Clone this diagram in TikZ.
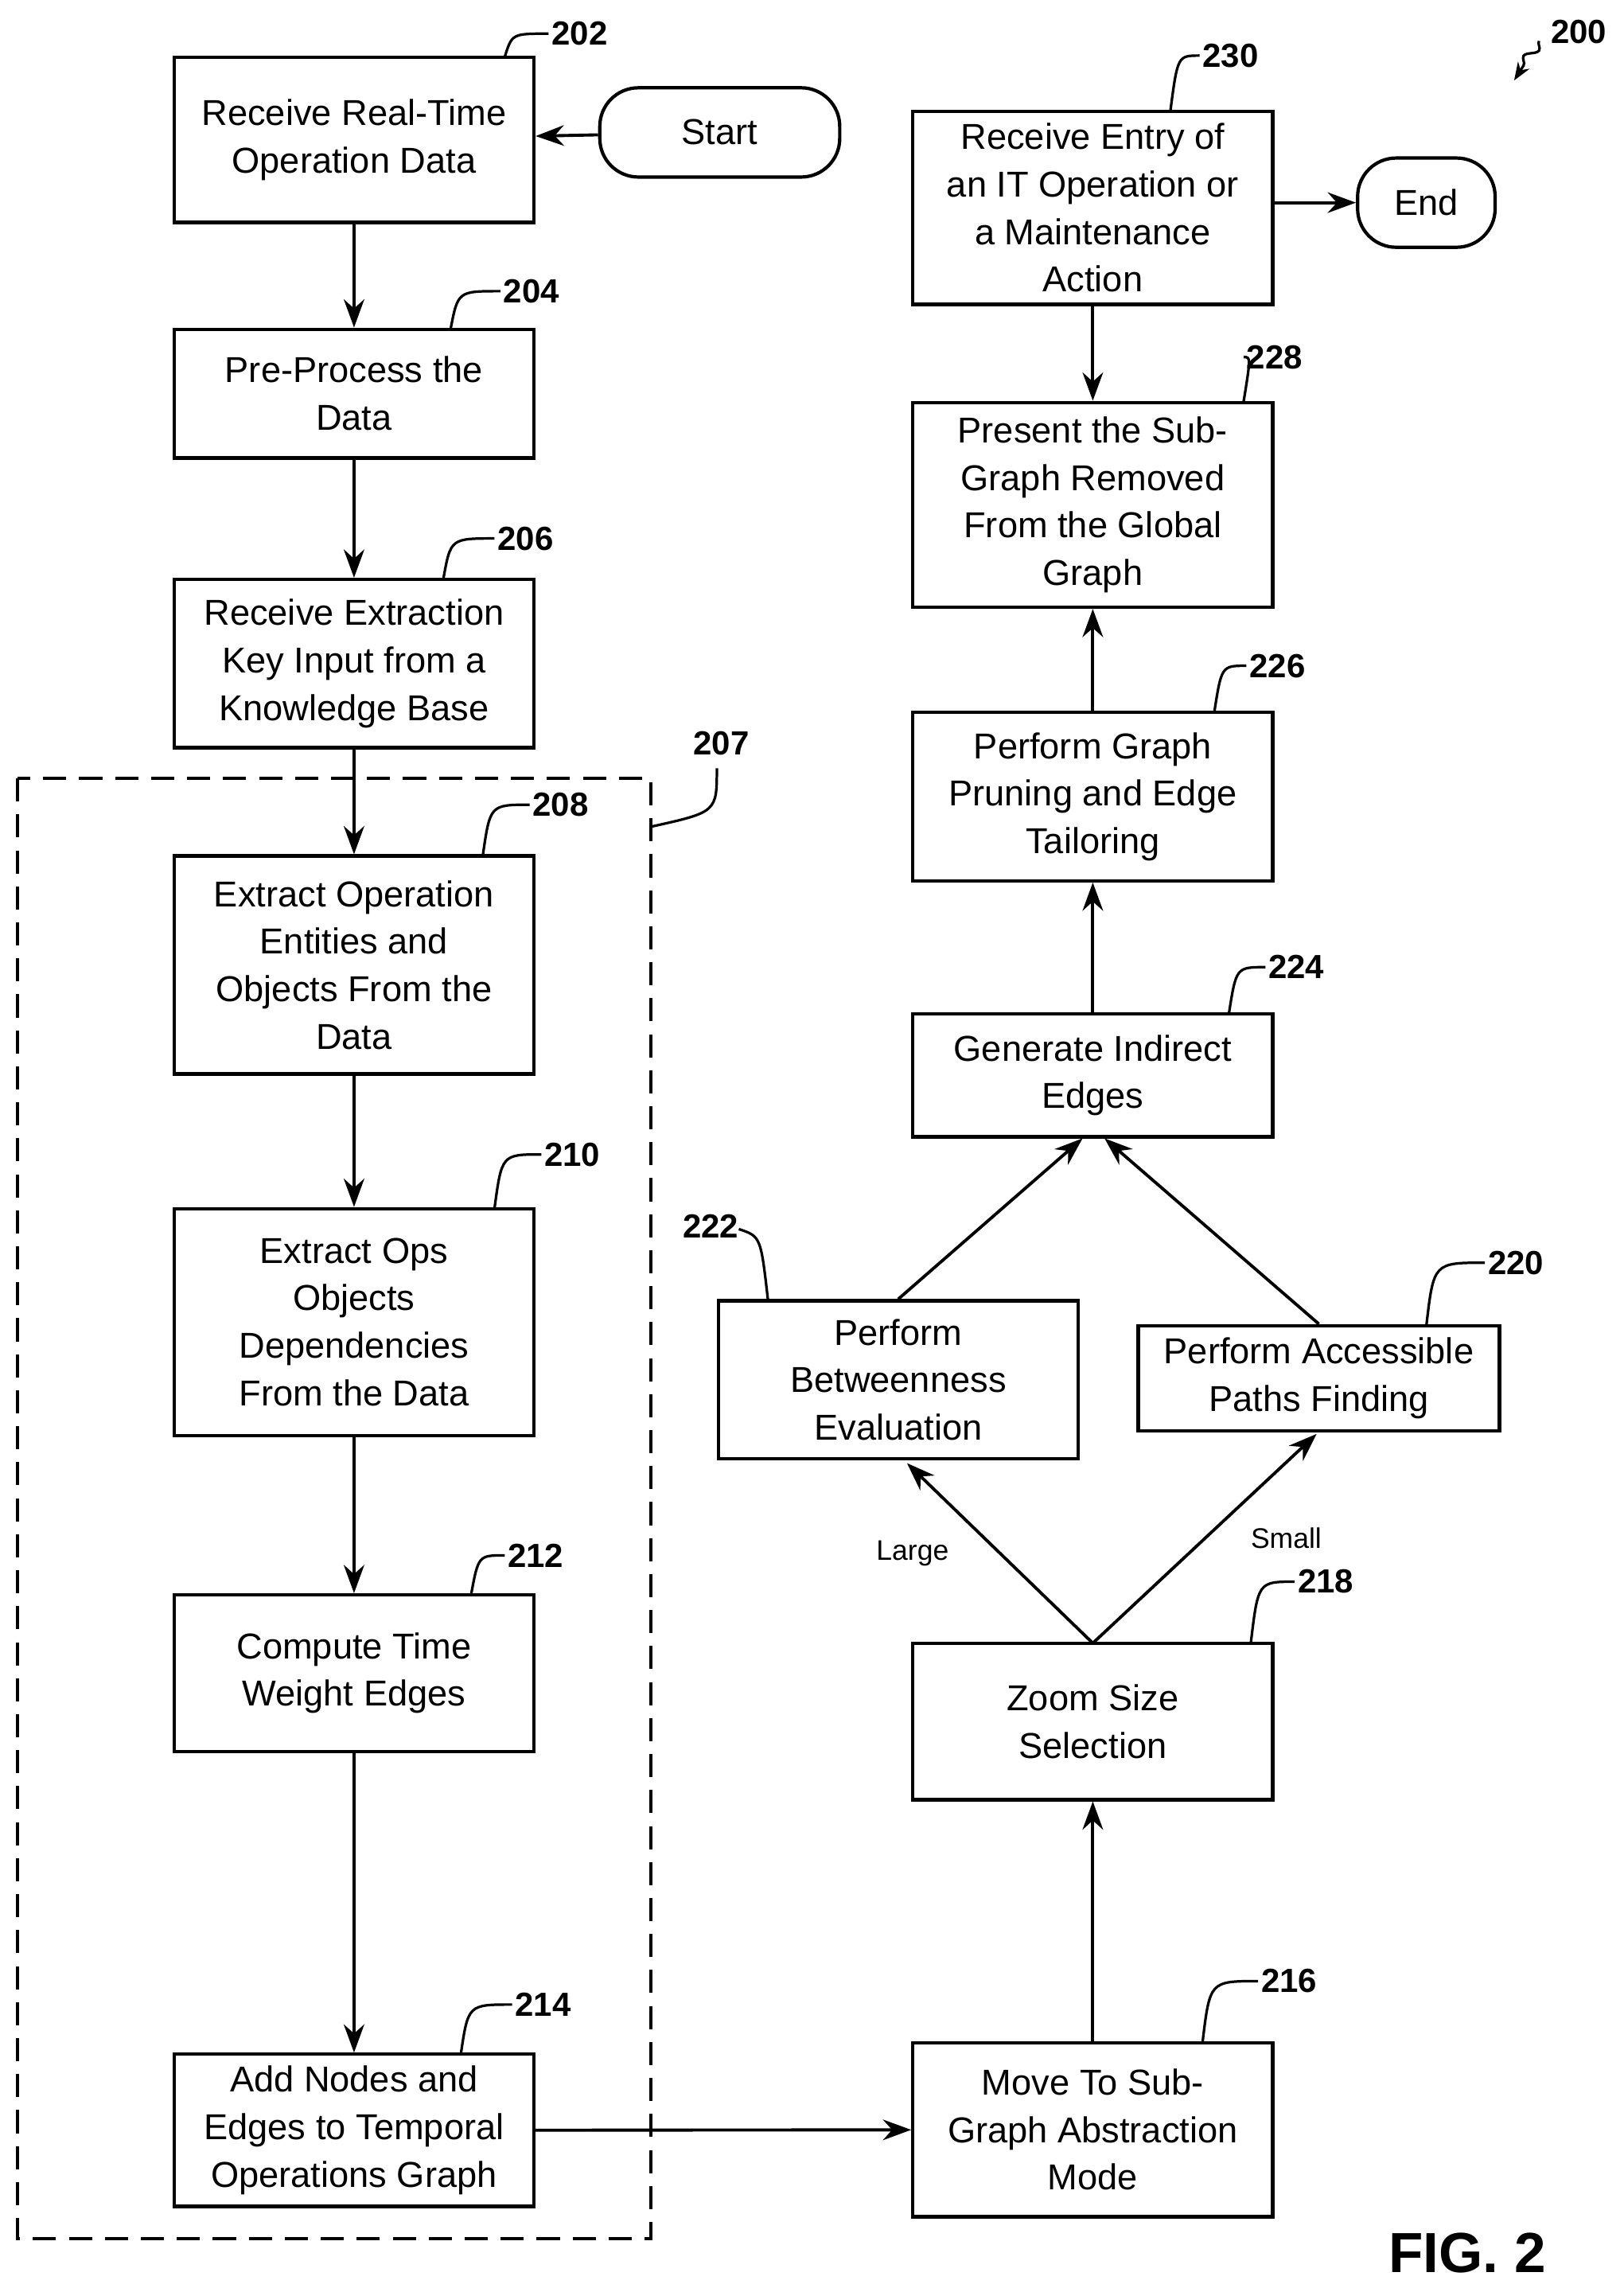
\documentclass[tikz,border=0pt]{standalone}
\usepackage{fontspec}
\setmainfont{Liberation Sans}
\usetikzlibrary{arrows.meta,decorations.pathmorphing}
\begin{document}
\begin{tikzpicture}[x=0.02cm,y=-0.02cm,
  box/.style={draw,line width=1.3pt,align=center,font=\fontsize{14}{18.5}\selectfont,inner sep=0pt},
  term/.style={draw,line width=1.3pt,rounded corners=15pt,font=\fontsize{14}{18}\selectfont,inner sep=0pt},
  arr/.style={line width=1.2pt,-{Stealth[length=11pt,width=8pt]}},
  num/.style={font=\bfseries\fontsize{13}{15}\selectfont,anchor=west,inner sep=1pt},
  lead/.style={line width=1pt}]
\useasboundingbox (0,0) rectangle (1110,1561);
\newcommand{\bx}[6]{\node[box,minimum width=(#4-#2)*0.02cm,minimum height=(#5-#3)*0.02cm] (#1) at ({(#2+#4)/2},{(#3+#5)/2}) {#6};}
\bx{n202}{119}{39}{365}{152}{Receive Real-Time\\Operation Data}
\bx{n204}{119}{225}{365}{313}{Pre-Process the\\Data}
\bx{n206}{119}{396}{365}{511}{Receive Extraction\\Key Input from a\\Knowledge Base}
\bx{n208}{119}{585}{365}{734}{Extract Operation\\Entities and\\Objects From the\\Data}
\bx{n210}{119}{826}{365}{981}{Extract Ops\\Objects\\Dependencies\\From the Data}
\bx{n212}{119}{1090}{365}{1197}{Compute Time\\Weight Edges}
\bx{n214}{119}{1404}{365}{1508}{Add Nodes and\\Edges to Temporal\\Operations Graph}
\bx{n216}{624}{1396}{870}{1515}{Move To Sub-\\Graph Abstraction\\Mode}
\bx{n218}{624}{1123}{870}{1230}{Zoom Size\\Selection}
\bx{n222}{491}{889}{737}{997}{Perform\\Betweenness\\Evaluation}
\bx{n220}{778}{906}{1025}{978}{Perform Accessible\\Paths Finding}
\bx{n224}{624}{693}{870}{777}{Generate Indirect\\Edges}
\bx{n226}{624}{487}{870}{602}{Perform Graph\\Pruning and Edge\\Tailoring}
\bx{n228}{624}{275}{870}{415}{Present the Sub-\\Graph Removed\\From the Global\\Graph}
\bx{n230}{624}{76}{870}{208}{Receive Entry of\\an IT Operation or\\a Maintenance\\Action}
\node[term,minimum width=164*0.02cm,minimum height=61*0.02cm] (start) at (492,90.5) {Start};
\node[term,minimum width=94*0.02cm,minimum height=61*0.02cm] (end) at (975,138.5) {End};
\draw[line width=1.2pt,dash pattern=on 9pt off 5pt] (12,532) rectangle (445,1530);
% arrows
\draw[arr] (start) -- (n202);
\draw[arr] (n202) -- (n204);
\draw[arr] (n204) -- (n206);
\draw[arr] (n206) -- (n208);
\draw[arr] (n208) -- (n210);
\draw[arr] (n210) -- (n212);
\draw[arr] (n212) -- (n214);
\draw[arr] (n214) -- (n216);
\draw[arr] (n216) -- (n218);
\coordinate (s1) at (747,1123);
\draw[arr] (s1) -- (620,1000) node[pos=0.5,left=16pt,font=\fontsize{11}{13}\selectfont]{Large};
\draw[arr] (s1) -- (900,980) node[pos=0.5,right=14pt,font=\fontsize{11}{13}\selectfont]{Small};
\draw[arr] (n222.north) -- (740,778);
\draw[arr] (n220.north) -- (755,778);
\draw[arr] (n224) -- (n226);
\draw[arr] (n226) -- (n228);
\draw[arr] (n230) -- (n228);
\draw[arr] (n230.east |- end) -- (end);
% reference numbers
\newcommand{\refn}[5]{\draw[lead] (#1,#2) .. controls (#1+5,#4) .. (#3,#4); \node[num] at (#3,#4) {#5};}
\refn{345}{39}{375}{23}{202}
\refn{308}{225}{342}{199}{204}
\refn{303}{396}{338}{368}{206}
\refn{330}{585}{362}{550}{208}
\refn{338}{826}{370}{789}{210}
\refn{322}{1090}{345}{1063}{212}
\refn{315}{1404}{350}{1370}{214}
\refn{822}{1396}{860}{1354}{216}
\refn{855}{1123}{885}{1081}{218}
\refn{975}{906}{1015}{863}{220}
\refn{840}{693}{865}{661}{224}
\refn{830}{487}{852}{455}{226}
\refn{850}{275}{850}{244}{228}
\refn{800}{76}{820}{38}{230}
\draw[lead] (445,565) .. controls (490,555) .. (490,525);
\node[font=\bfseries\fontsize{13}{15}\selectfont] at (493,508) {207};
\draw[lead] (525,889) .. controls (520,845) .. (505,840);
\node[num,anchor=east] at (507,838) {222};
\node[num] at (1058,22) {200};
\draw[lead,-{Stealth[length=7pt]},decorate,decoration={snake,amplitude=2pt,segment length=10pt,post length=6pt}] (1052,28) -- (1035,55);
\node[font=\bfseries\fontsize{22}{26}\selectfont] at (1003,1540) {FIG. 2};
\end{tikzpicture}
\end{document}
